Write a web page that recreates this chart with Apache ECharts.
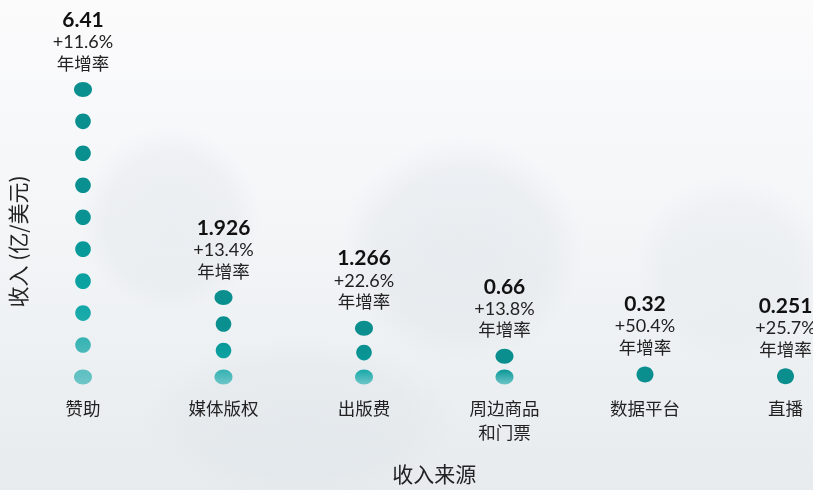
<!DOCTYPE html>
<html><head><meta charset="utf-8">
<script src="https://cdn.jsdelivr.net/npm/echarts@6/dist/echarts.min.js"></script>
<style>html,body{margin:0;padding:0;background:#fff}#c{width:813px;height:490px;}</style>
</head><body><div id="c"></div>
<script>
const categories = ['赞助', '媒体版权', '出版费', '周边商品\n和门票', '数据平台', '直播'];
const revenue = [6.41, 1.926, 1.266, 0.66, 0.32, 0.251];
const growth = ['+11.6%', '+13.4%', '+22.6%', '+13.8%', '+50.4%', '+25.7%'];
const growthLabel = '年增率';
const xAxisName = '收入来源';
const yAxisName = '收入 (亿/美元)';

const colorStops = [[0, '#6ec5c7'], [0.11, '#4bb9ba'], [0.22, '#1cabab'], [0.33, '#0ca3a3'],
  [0.45, '#089b9b'], [0.56, '#0a9393'], [0.7, '#0a8f8f'], [1, '#0a8e8e']];
function hexRgb(h) { return [parseInt(h.substr(1, 2), 16), parseInt(h.substr(3, 2), 16), parseInt(h.substr(5, 2), 16)]; }
function colorAt(f) {
  f = Math.max(0, Math.min(1, f));
  for (let k = 1; k < colorStops.length; k++) {
    if (f <= colorStops[k][0]) {
      const a = colorStops[k - 1], b = colorStops[k];
      const t = (f - a[0]) / (b[0] - a[0]);
      const ca = hexRgb(a[1]), cb = hexRgb(b[1]);
      return 'rgb(' + ca.map((v, j) => Math.round(v + (cb[j] - v) * t)).join(',') + ')';
    }
  }
  return colorStops[colorStops.length - 1][1];
}

function renderItem(params, api) {
  const i = api.value(0), v = api.value(1);
  const b = api.coord([i, 0]);
  const t = api.coord([i, v]);
  const cx = b[0];
  const L = b[1] - t[1];
  const n = Math.max(1, Math.floor((L + 50) / 34));
  const children = [];
  let topEdge;
  if (n === 1) {
    const cy = (b[1] + t[1]) / 2;
    children.push({ type: 'ellipse', shape: { cx: cx, cy: cy, rx: 8.5, ry: 8 }, style: { fill: colorAt(1) } });
    topEdge = cy - 8;
  } else {
    const y0 = b[1] - 5, y1 = t[1] + 5;
    const step = (y0 - y1) / (n - 1);
    for (let k = 0; k < n; k++) {
      const cy = y0 - k * step;
      const f = k / (n - 1);
      const end = (k === 0 || k === n - 1);
      const rx = end ? 9 : 7.8, ry = end ? 7.5 : 7.8;
      const fill = new echarts.graphic.LinearGradient(0, 0, 0, 1, [
        { offset: 0, color: colorAt(f + 0.5 / (n - 1)) },
        { offset: 1, color: colorAt(f) }
      ]);
      children.push({ type: 'ellipse', shape: { cx: cx, cy: cy, rx: rx, ry: ry }, style: { fill: fill } });
    }
    topEdge = y1 - 7.5;
  }
  children.push({
    type: 'text',
    style: {
      x: cx, y: topEdge - 7, align: 'center', verticalAlign: 'bottom',
      text: '{v|' + revenue[params.dataIndex] + '}\n{p|' + growth[params.dataIndex] + '}\n{c|' + growthLabel + '}',
      rich: {
        v: { fontFamily: 'Lato, "Noto Sans CJK SC"', fontWeight: 'bold', fontSize: 21, lineHeight: 22, fill: '#111', align: 'center' },
        p: { fontFamily: 'Lato, "Noto Sans CJK SC"', fontSize: 18, lineHeight: 22, fill: '#222', align: 'center' },
        c: { fontFamily: 'Lato, "Noto Sans CJK SC"', fontSize: 17.5, lineHeight: 22, fill: '#222', align: 'center' }
      }
    }
  });
  return { type: 'group', children: children };
}

function blob(cx, cy, r, sy, a) {
  return {
    type: 'circle', z: -10, silent: true, scaleY: sy, originX: cx, originY: cy,
    shape: { cx: cx, cy: cy, r: r },
    style: { fill: new echarts.graphic.RadialGradient(0.5, 0.5, 0.5, [
      { offset: 0, color: 'rgba(212,220,227,' + a + ')' },
      { offset: 0.7, color: 'rgba(212,220,227,' + (a * 0.8) + ')' },
      { offset: 1, color: 'rgba(212,220,227,0)' }
    ]) }
  };
}

const chart = echarts.init(document.getElementById('c'), null, { renderer: 'canvas' });
chart.setOption({
  animation: false,
  backgroundColor: new echarts.graphic.LinearGradient(0, 0, 0, 1, [
    { offset: 0, color: '#fbfbfc' },
    { offset: 0.35, color: '#f6f7f9' },
    { offset: 0.65, color: '#eff2f4' },
    { offset: 1, color: '#e7ebee' }
  ]),
  graphic: [
    blob(462, 250, 120, 0.95, 0.35),
    blob(170, 220, 90, 1.05, 0.3),
    blob(730, 270, 95, 1.0, 0.22),
    blob(300, 420, 160, 0.5, 0.25)
  ],
  grid: { left: 82.6, right: 27.5, top: 57, bottom: 103 },
  xAxis: {
    type: 'category',
    data: categories,
    boundaryGap: false,
    axisLine: { show: false },
    axisTick: { show: false },
    axisLabel: { margin: 14, fontSize: 17.5, lineHeight: 24, color: '#222', fontFamily: '"Noto Sans CJK SC"', interval: 0 },
    name: xAxisName,
    nameLocation: 'middle',
    nameGap: 82,
    nameTextStyle: { fontSize: 21, color: '#222', fontFamily: '"Noto Sans CJK SC"' }
  },
  yAxis: {
    type: 'value',
    min: 0,
    max: 7,
    axisLine: { show: false },
    axisTick: { show: false },
    axisLabel: { show: false },
    splitLine: { show: false },
    name: yAxisName,
    nameLocation: 'middle',
    nameGap: 54,
    nameTextStyle: { fontSize: 21, color: '#222', fontFamily: '"Noto Sans CJK SC"', padding: [0, 44, 0, 0] }
  },
  series: [{
    type: 'custom',
    clip: false,
    renderItem: renderItem,
    encode: { x: 0, y: 1 },
    data: revenue.map((v, i) => [i, v])
  }]
});
</script>
</body></html>
